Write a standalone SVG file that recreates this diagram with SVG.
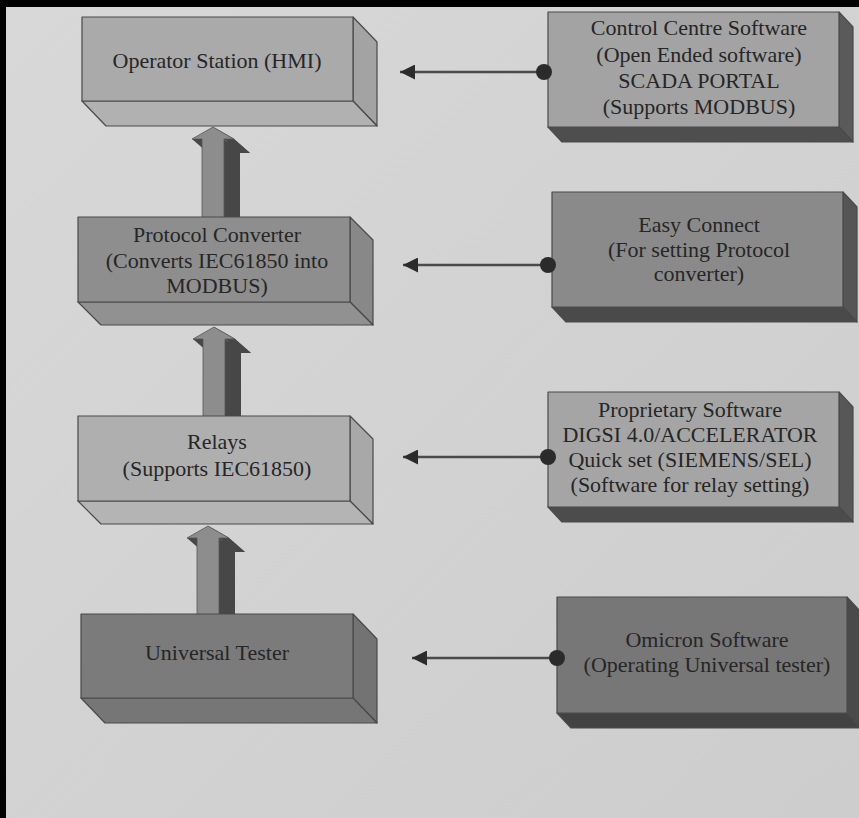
<svg xmlns="http://www.w3.org/2000/svg" xmlns:xlink="http://www.w3.org/1999/xlink" width="859" height="818" viewBox="0 0 859 818">
  <style>
    .lbl { font-family: "Liberation Serif", "Times New Roman", serif; font-size: 22px; fill: #262626; text-anchor: middle; }
    .edge { stroke: #4a4a4a; stroke-width: 1.2; stroke-linejoin: round; }
    .link { stroke: #4a4a4a; stroke-width: 2.5; fill: none; }
    .dot { fill: #2b2b2b; }
    .aFront { fill: #8d8d8d; stroke: #555; stroke-width: 0.8; }
    .aBack { fill: #474747; }
  </style>
  <defs>
    <linearGradient id="bg" x1="0" y1="0" x2="1" y2="1">
      <stop offset="0" stop-color="#d8d8d8"/>
      <stop offset="1" stop-color="#cdcdcd"/>
    </linearGradient>
    <marker id="head" viewBox="0 0 15 15" refX="15" refY="7.5" markerWidth="15" markerHeight="15" markerUnits="userSpaceOnUse" orient="auto">
      <path d="M0,0 L15,7.5 L0,15 Z" fill="#2b2b2b"/>
    </marker>
    <!-- extruded block arrow pointing up, tip at the origin -->
    <g id="uparrow">
      <polygon class="aBack" points="16,14 37,26 27,26 27,106 5,106 5,26 -5,26"/>
      <polygon class="aBack" points="0,0 21,12 37,26 16,14"/>
      <polygon class="aBack" points="21,12 11,12 27,26 37,26"/>
      <polygon class="aBack" points="11,12 11,92 27,106 27,26"/>
      <polygon class="aBack" points="-21,12 -11,12 5,26 -5,26"/>
      <polygon class="aFront" points="0,0 21,12 11,12 11,92 -11,92 -11,12 -21,12"/>
    </g>
  </defs>

  <!-- backdrop and frame -->
  <rect x="0" y="0" width="859" height="818" fill="url(#bg)"/>
  <rect x="0" y="0" width="859" height="7" fill="#000"/>
  <rect x="0" y="0" width="6" height="818" fill="#000"/>

  <!-- vertical flow arrows -->
  <g id="flow">
    <use xlink:href="#uparrow" x="213" y="127"/>
    <use xlink:href="#uparrow" x="214" y="327"/>
    <use xlink:href="#uparrow" x="208" y="526"/>
  </g>

  <!-- left column -->
  <g id="operator-station">
    <polygon class="edge" fill="#a3a3a3" points="353,17 377,42 377,126 353,101"/>
    <polygon class="edge" fill="#b1b1b1" points="82,101 353,101 377,126 106,126"/>
    <rect class="edge" x="82" y="17" width="271" height="84" fill="#aaaaaa"/>
    <text class="lbl" x="217" y="68">Operator Station (HMI)</text>
  </g>

  <g id="protocol-converter">
    <polygon class="edge" fill="#888888" points="350,217 373,240 373,325 350,302"/>
    <polygon class="edge" fill="#919191" points="78,302 350,302 373,325 101,325"/>
    <rect class="edge" x="78" y="217" width="272" height="85" fill="#8e8e8e"/>
    <text class="lbl" x="217" y="242">Protocol Converter</text>
    <text class="lbl" x="217" y="268">(Converts IEC61850 into</text>
    <text class="lbl" x="217" y="293">MODBUS)</text>
  </g>

  <g id="relays">
    <polygon class="edge" fill="#a8a8a8" points="350,416 373,439 373,524 350,501"/>
    <polygon class="edge" fill="#b4b4b4" points="78,501 350,501 373,524 101,524"/>
    <rect class="edge" x="78" y="416" width="272" height="85" fill="#afafaf"/>
    <text class="lbl" x="217" y="449">Relays</text>
    <text class="lbl" x="217" y="476">(Supports IEC61850)</text>
  </g>

  <g id="universal-tester">
    <polygon class="edge" fill="#737373" points="353,614 377,639 377,723 353,698"/>
    <polygon class="edge" fill="#767676" points="81,698 353,698 377,723 105,723"/>
    <rect class="edge" x="81" y="614" width="272" height="84" fill="#7b7b7b"/>
    <text class="lbl" x="217" y="660">Universal Tester</text>
  </g>

  <!-- right column -->
  <g id="control-centre">
    <polygon class="edge" fill="#5a5a5a" points="839,12 853,27 853,142 839,127"/>
    <polygon class="edge" fill="#4e4e4e" points="548,127 839,127 853,142 562,142"/>
    <rect class="edge" x="548" y="12" width="291" height="115" fill="#a3a3a3"/>
    <text class="lbl" x="699" y="35">Control Centre Software</text>
    <text class="lbl" x="699" y="62">(Open Ended software)</text>
    <text class="lbl" x="699" y="88">SCADA PORTAL</text>
    <text class="lbl" x="699" y="114">(Supports MODBUS)</text>
  </g>

  <g id="easy-connect">
    <polygon class="edge" fill="#555555" points="843,192 857,207 857,322 843,307"/>
    <polygon class="edge" fill="#4a4a4a" points="552,307 843,307 857,322 566,322"/>
    <rect class="edge" x="552" y="192" width="291" height="115" fill="#8a8a8a"/>
    <text class="lbl" x="699" y="232">Easy Connect</text>
    <text class="lbl" x="699" y="257">(For setting Protocol</text>
    <text class="lbl" x="699" y="281">converter)</text>
  </g>

  <g id="proprietary-software">
    <polygon class="edge" fill="#575757" points="839,392 853,407 853,522 839,507"/>
    <polygon class="edge" fill="#4c4c4c" points="548,507 839,507 853,522 562,522"/>
    <rect class="edge" x="548" y="392" width="291" height="115" fill="#a5a5a5"/>
    <text class="lbl" x="690" y="417">Proprietary Software</text>
    <text class="lbl" x="690" y="442">DIGSI 4.0/ACCELERATOR</text>
    <text class="lbl" x="690" y="467">Quick set (SIEMENS/SEL)</text>
    <text class="lbl" x="690" y="492">(Software for relay setting)</text>
  </g>

  <g id="omicron-software">
    <polygon class="edge" fill="#4a4a4a" points="847,597 861,612 861,728 847,713"/>
    <polygon class="edge" fill="#424242" points="557,713 847,713 861,728 571,728"/>
    <rect class="edge" x="557" y="597" width="290" height="116" fill="#777777"/>
    <text class="lbl" x="707" y="647">Omicron Software</text>
    <text class="lbl" x="707" y="672">(Operating Universal tester)</text>
  </g>

  <!-- software-to-device links -->
  <g id="connectors">
    <path class="link" d="M544,72 H400" marker-end="url(#head)"/>
    <circle class="dot" cx="544" cy="72" r="8"/>
    <path class="link" d="M548,265 H403" marker-end="url(#head)"/>
    <circle class="dot" cx="548" cy="265" r="8"/>
    <path class="link" d="M548,457 H403" marker-end="url(#head)"/>
    <circle class="dot" cx="548" cy="457" r="8"/>
    <path class="link" d="M557,658 H412" marker-end="url(#head)"/>
    <circle class="dot" cx="557" cy="658" r="8"/>
  </g>
</svg>
